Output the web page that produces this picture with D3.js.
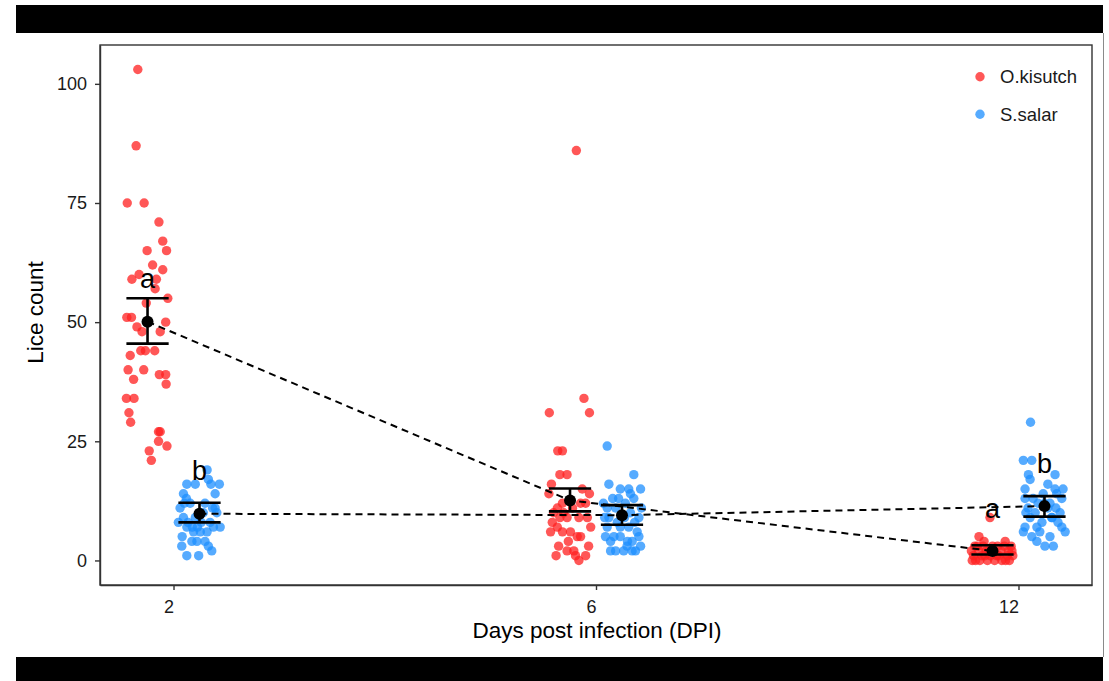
<!DOCTYPE html>
<html>
<head>
<meta charset="utf-8">
<title>Lice count by DPI</title>
<script src="https://d3js.org/d3.v7.min.js"></script>
<style>
  body { margin: 0; background: #fff; }
  svg { display: block; font-family: Arial, "Liberation Sans", sans-serif; }
</style>
</head>
<body>
<svg id="chart" width="1109" height="681"></svg>
<script>
// ---- data ----
var days = ["2", "6", "12"];
var species = ["O.kisutch", "S.salar"];
var yTicks = [0, 25, 50, 75, 100];

// lice counts per fish, and the jitter each point was given (category units)
var okis2 = [103, 87, 75, 75, 71, 67, 65, 65, 62, 61, 60, 59, 59, 57, 55, 54, 51, 51, 50, 49, 48, 48, 44, 44, 44, 43, 40, 40, 38, 39, 39, 37, 34, 34, 31, 29, 27, 27, 25, 24, 23, 21];
var okis2Jit = [-0.023, -0.027, -0.048, -0.008, 0.027, 0.036, 0.045, -0.001, 0.012, 0.036, -0.020, -0.037, 0.021, 0.018, 0.048, -0.003, -0.049, -0.038, 0.043, -0.025, 0.030, -0.013, -0.016, -0.005, 0.017, -0.041, -0.046, -0.009, -0.033, 0.028, 0.043, 0.044, -0.050, -0.032, -0.044, -0.040, 0.026, 0.030, 0.026, 0.046, 0.004, 0.009];

var ssal2 = [19, 17, 16, 16, 16, 16, 14, 13, 11, 8, 9, 11, 10, 7, 7, 7, 6, 6, 6, 3, 4, 4, 4, 2, 1, 1, 12, 12, 8, 9, 8, 8, 11, 12, 10, 7, 3, 7, 14, 5];
var ssal2Jit = [0.018, 0.021, -0.030, -0.010, 0.027, 0.047, -0.038, -0.031, -0.046, -0.050, -0.038, 0.037, 0.041, 0.049, 0.033, -0.030, -0.014, 0.002, 0.018, -0.042, -0.018, -0.006, 0.013, 0.029, -0.030, -0.002, -0.022, 0.013, 0.025, -0.010, -0.027, 0.004, 0.031, -0.036, 0.009, -0.017, 0.021, -0.005, 0.037, -0.041];

var okis6 = [86, 34, 31, 31, 23, 23, 18, 18, 16, 15, 14, 14, 11, 12, 12, 8, 9, 9, 9, 9, 6, 6, 6, 5, 7, 3, 2, 2, 5, 1, 0, 1, 1, 10, 11, 10, 12, 4, 3, 7];
var okis6Jit = [0.015, 0.033, -0.049, 0.046, -0.029, -0.018, -0.024, -0.007, -0.044, 0.029, 0.046, -0.050, -0.030, -0.018, 0.037, -0.042, -0.024, -0.007, 0.021, 0.041, -0.046, -0.018, 0.001, 0.017, -0.030, 0.044, -0.007, 0.009, 0.025, -0.033, 0.021, 0.037, 0.013, -0.015, 0.006, -0.039, 0.025, -0.004, -0.027, 0.049];

var ssal6 = [24, 18, 16, 15, 15, 15, 13, 11, 11, 9, 9, 7, 6, 7, 7, 5, 5, 5, 4, 3, 4, 5, 2, 2, 2, 2, 12, 13, 10, 11, 8, 12, 9, 8, 2, 3, 13, 4, 9, 14];
var ssal6Jit = [-0.035, 0.028, -0.031, -0.004, 0.016, 0.044, 0.028, -0.035, -0.015, -0.031, 0.040, -0.035, 0.036, -0.004, 0.016, -0.039, -0.019, -0.004, -0.027, 0.012, 0.024, 0.040, -0.015, 0.004, 0.024, 0.032, 0.008, -0.022, 0.020, 0.046, -0.011, -0.044, 0.006, 0.030, -0.027, 0.044, -0.008, 0.013, -0.041, 0.020];

var okis12 = [9, 5, 0, 0, 0, 0, 0, 0, 0, 0, 1, 1, 1, 1, 1, 1, 1, 1, 2, 2, 2, 2, 2, 2, 2, 2, 3, 3, 3, 3, 3, 3, 3, 4, 4];
var okis12Jit = [-0.006, -0.032, -0.048, -0.030, -0.012, 0.005, 0.022, 0.040, -0.040, 0.031, -0.045, -0.025, -0.005, 0.015, 0.035, 0.048, -0.018, 0.010, -0.050, -0.033, -0.015, 0.002, 0.020, 0.038, 0.046, -0.008, -0.042, -0.022, 0.000, 0.028, 0.044, -0.036, 0.012, -0.020, 0.030];

var ssal12 = [29, 21, 21, 18, 18, 17, 15, 15, 14, 13, 14, 13, 9, 9, 7, 7, 6, 5, 5, 6, 3, 3, 12, 11, 10, 10, 8, 8, 11, 12, 7, 6, 13, 16, 4, 11, 10, 15, 12, 9];
var ssal12Jit = [-0.033, -0.050, -0.030, 0.025, -0.038, -0.034, -0.046, 0.025, 0.029, 0.041, -0.003, -0.046, 0.017, -0.034, -0.046, -0.018, -0.050, -0.030, 0.013, 0.049, 0.001, 0.021, -0.015, 0.008, 0.037, -0.022, -0.006, 0.032, -0.039, 0.013, 0.041, -0.011, -0.027, 0.008, -0.018, 0.027, -0.044, 0.044, 0.000, 0.018];

// group means with +/- SE, per species across days
var okisMean = [50.1, 12.6, 2.0];
var okisLow = [45.5, 10.3, 1.25];
var okisHigh = [55.0, 15.1, 3.2];
var ssalMean = [9.8, 9.5, 11.4];
var ssalLow = [8.0, 7.5, 9.2];
var ssalHigh = [12.1, 11.6, 13.5];
var okisLetter = ["a", "", "a"];
var ssalLetter = ["b", "", "b"];

// ---- layout ----
var svg = d3.select("#chart");
var pL = 100, pR = 1092, pT = 45, pB = 585;
var dodge = 0.0615, capHalf = 0.05;
var colour = d3.scaleOrdinal().domain(species).range(["#ff1f1f", "#1e8fff"]);

var x = d3.scaleLinear().domain([-0.174, 2.174]).range([pL, pR]);
var y = d3.scaleLinear().domain([-5.15, 108.15]).range([pB, pT]);

// black frame bars of the screenshot
svg.append("rect").attr("x", 16).attr("y", 5).attr("width", 1087).attr("height", 28).attr("fill", "#000");
svg.append("rect").attr("x", 16).attr("y", 657).attr("width", 1087).attr("height", 24).attr("fill", "#000");
svg.append("line").attr("x1", 1103.5).attr("x2", 1103.5).attr("y1", 33).attr("y2", 657)
    .attr("stroke", "#8a8a8a").attr("stroke-width", 1);

// build point table
var groups = [
    { sp: 0, day: 0, v: okis2, j: okis2Jit },
    { sp: 1, day: 0, v: ssal2, j: ssal2Jit },
    { sp: 0, day: 1, v: okis6, j: okis6Jit },
    { sp: 1, day: 1, v: ssal6, j: ssal6Jit },
    { sp: 0, day: 2, v: okis12, j: okis12Jit },
    { sp: 1, day: 2, v: ssal12, j: ssal12Jit }
];
var points = [];
groups.forEach(function (g) {
    g.v.forEach(function (val, i) {
        points.push({ sp: g.sp, pos: g.day + (g.sp === 0 ? -dodge : dodge) + g.j[i], count: val });
    });
});

var plot = svg.append("g");

plot.selectAll("circle.pt")
    .data(points)
    .enter().append("circle")
    .attr("class", "pt")
    .attr("cx", function (d) { return x(d.pos); })
    .attr("cy", function (d) { return y(d.count); })
    .attr("r", 4.7)
    .attr("fill", function (d) { return colour(species[d.sp]); })
    .attr("fill-opacity", 0.75);

// summary stats
var summ = [
    { sp: 0, mean: okisMean, lo: okisLow, hi: okisHigh, letter: okisLetter },
    { sp: 1, mean: ssalMean, lo: ssalLow, hi: ssalHigh, letter: ssalLetter }
];

summ.forEach(function (s) {
    var off = s.sp === 0 ? -dodge : dodge;
    var line = d3.line()
        .x(function (d, i) { return x(i + off); })
        .y(function (d) { return y(d); });
    plot.append("path")
        .attr("d", line(s.mean))
        .attr("fill", "none")
        .attr("stroke", "#000")
        .attr("stroke-width", 2)
        .attr("stroke-dasharray", "7,5");

    s.mean.forEach(function (m, i) {
        var cx = i + off;
        var eb = plot.append("g").attr("stroke", "#000").attr("stroke-width", 2.6);
        eb.append("line").attr("x1", x(cx)).attr("x2", x(cx)).attr("y1", y(s.lo[i])).attr("y2", y(s.hi[i]));
        eb.append("line").attr("x1", x(cx - capHalf)).attr("x2", x(cx + capHalf)).attr("y1", y(s.lo[i])).attr("y2", y(s.lo[i]));
        eb.append("line").attr("x1", x(cx - capHalf)).attr("x2", x(cx + capHalf)).attr("y1", y(s.hi[i])).attr("y2", y(s.hi[i]));
        plot.append("circle").attr("cx", x(cx)).attr("cy", y(m)).attr("r", 6).attr("fill", "#000");
        if (s.letter[i]) {
            plot.append("text")
                .attr("x", x(cx))
                .attr("y", y(m + 7))
                .attr("text-anchor", "middle")
                .attr("font-size", 27)
                .attr("fill", "#000")
                .text(s.letter[i]);
        }
    });
});

// panel border
svg.append("rect")
    .attr("x", pL).attr("y", pT)
    .attr("width", pR - pL).attr("height", pB - pT)
    .attr("fill", "none").attr("stroke", "#333").attr("stroke-width", 1.4);

// axes
var yAxis = svg.append("g")
    .attr("transform", "translate(" + pL + ",0)")
    .call(d3.axisLeft(y).tickValues(yTicks).tickSize(5).tickSizeOuter(0).tickPadding(8));
var xAxis = svg.append("g")
    .attr("transform", "translate(0," + pB + ")")
    .call(d3.axisBottom(x).tickValues([0, 1, 2]).tickFormat(function (d) { return days[d]; })
        .tickSize(5).tickSizeOuter(0).tickPadding(4));

[yAxis, xAxis].forEach(function (a) {
    a.select(".domain").attr("stroke", "#333").attr("stroke-width", 1.4);
    a.selectAll(".tick line").attr("stroke", "#333").attr("stroke-width", 1.4);
    a.selectAll(".tick text").attr("fill", "#1a1a1a").attr("font-size", 18)
        .attr("font-family", "Arial, 'Liberation Sans', sans-serif");
});
xAxis.selectAll(".tick text").attr("text-anchor", "end").attr("x", 0).attr("dy", "0.71em").attr("y", 15.5);

// axis titles
svg.append("text")
    .attr("x", 597).attr("y", 638)
    .attr("text-anchor", "middle")
    .attr("font-size", 22.5)
    .attr("fill", "#000")
    .text("Days post infection (DPI)");
svg.append("text")
    .attr("transform", "translate(43,312.5) rotate(-90)")
    .attr("text-anchor", "middle")
    .attr("font-size", 22.5)
    .attr("fill", "#000")
    .text("Lice count");

// legend
var legend = svg.append("g");
species.forEach(function (s, i) {
    var ly = 76.7 + i * 37.6;
    legend.append("circle").attr("cx", 980).attr("cy", ly).attr("r", 4.7)
        .attr("fill", colour(s)).attr("fill-opacity", 0.75);
    legend.append("text").attr("x", 1000).attr("y", ly + 6.6)
        .attr("font-size", 18.5).attr("fill", "#1a1a1a").text(s);
});
</script>
</body>
</html>
